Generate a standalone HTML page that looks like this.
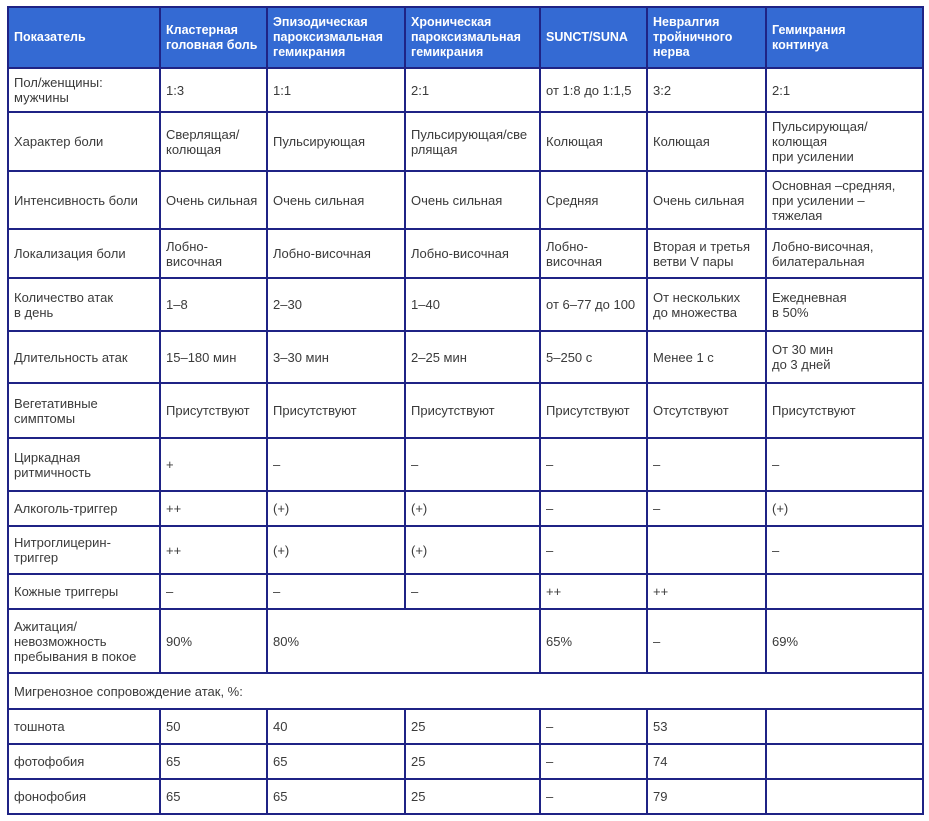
<!DOCTYPE html>
<html><head><meta charset="utf-8"><style>
body{margin:0;background:#fff;width:929px;height:821px;overflow:hidden}
table{position:absolute;left:7px;top:6px;border-collapse:collapse;table-layout:fixed;width:915px;font-family:"Liberation Sans","DejaVu Sans",sans-serif;font-size:13px;color:#3a3a3a}
td,th{border:2px solid #1f2385;padding:0 5px;vertical-align:middle;line-height:15px;text-align:left;overflow:hidden}
th{background:#346ad3;color:#fff;font-weight:bold;font-size:12.5px;white-space:nowrap}
</style></head><body>
<table>
<colgroup><col style="width:152px"><col style="width:107px"><col style="width:138px"><col style="width:135px"><col style="width:107px"><col style="width:119px"><col style="width:157px"></colgroup>
<tr style="height:61px"><th>Показатель</th><th>Кластерная<br>головная боль</th><th>Эпизодическая<br>пароксизмальная<br>гемикрания</th><th>Хроническая<br>пароксизмальная<br>гемикрания</th><th>SUNCT/SUNA</th><th>Невралгия<br>тройничного<br>нерва</th><th>Гемикрания<br>континуа</th></tr>
<tr style="height:44px"><td>Пол/женщины:<br>мужчины</td><td>1:3</td><td>1:1</td><td>2:1</td><td>от 1:8 до 1:1,5</td><td>3:2</td><td>2:1</td></tr>
<tr style="height:59px"><td>Характер боли</td><td>Сверлящая/<br>колющая</td><td>Пульсирующая</td><td>Пульсирующая/све<br>рлящая</td><td>Колющая</td><td>Колющая</td><td>Пульсирующая/<br>колющая<br>при усилении</td></tr>
<tr style="height:58px"><td>Интенсивность боли</td><td>Очень сильная</td><td>Очень сильная</td><td>Очень сильная</td><td>Средняя</td><td>Очень сильная</td><td>Основная –средняя,<br>при усилении –<br>тяжелая</td></tr>
<tr style="height:49px"><td>Локализация боли</td><td>Лобно-<br>височная</td><td>Лобно-височная</td><td>Лобно-височная</td><td>Лобно-<br>височная</td><td>Вторая и третья<br>ветви V пары</td><td>Лобно-височная,<br>билатеральная</td></tr>
<tr style="height:53px"><td>Количество атак<br>в день</td><td>1–8</td><td>2–30</td><td>1–40</td><td>от 6–77 до 100</td><td>От нескольких<br>до множества</td><td>Ежедневная<br>в 50%</td></tr>
<tr style="height:52px"><td>Длительность атак</td><td>15–180 мин</td><td>3–30 мин</td><td>2–25 мин</td><td>5–250 с</td><td>Менее 1 с</td><td>От 30 мин<br>до 3 дней</td></tr>
<tr style="height:55px"><td>Вегетативные<br>симптомы</td><td>Присутствуют</td><td>Присутствуют</td><td>Присутствуют</td><td>Присутствуют</td><td>Отсутствуют</td><td>Присутствуют</td></tr>
<tr style="height:53px"><td>Циркадная<br>ритмичность</td><td>+</td><td>–</td><td>–</td><td>–</td><td>–</td><td>–</td></tr>
<tr style="height:35px"><td>Алкоголь-триггер</td><td>++</td><td>(+)</td><td>(+)</td><td>–</td><td>–</td><td>(+)</td></tr>
<tr style="height:48px"><td>Нитроглицерин-<br>триггер</td><td>++</td><td>(+)</td><td>(+)</td><td>–</td><td></td><td>–</td></tr>
<tr style="height:35px"><td>Кожные триггеры</td><td>–</td><td>–</td><td>–</td><td>++</td><td>++</td><td></td></tr>
<tr style="height:64px"><td>Ажитация/<br>невозможность<br>пребывания в покое</td><td>90%</td><td colspan="2">80%</td><td>65%</td><td>–</td><td>69%</td></tr>
<tr style="height:36px"><td colspan="7">Мигренозное сопровождение атак, %:</td></tr>
<tr style="height:35px"><td>тошнота</td><td>50</td><td>40</td><td>25</td><td>–</td><td>53</td><td></td></tr>
<tr style="height:35px"><td>фотофобия</td><td>65</td><td>65</td><td>25</td><td>–</td><td>74</td><td></td></tr>
<tr style="height:35px"><td>фонофобия</td><td>65</td><td>65</td><td>25</td><td>–</td><td>79</td><td></td></tr>
</table>
</body></html>
